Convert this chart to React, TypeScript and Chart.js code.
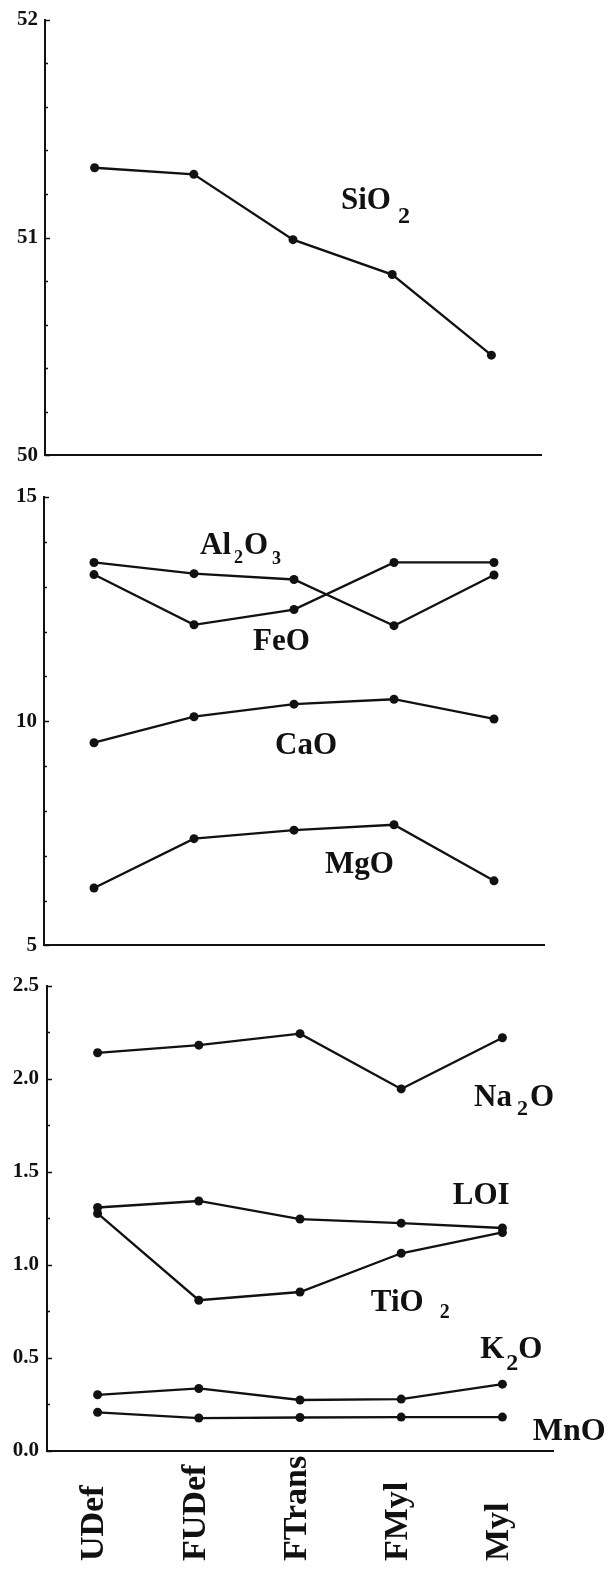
import React, { useEffect, useRef } from 'react';
import { Chart, registerables } from 'chart.js';

Chart.register(...registerables);

// ---- data ----
const categories = ['UDef', 'FUDef', 'FTrans', 'FMyl', 'Myl'];

const sio2 = [51.32, 51.29, 50.99, 50.83, 50.46];

const al2o3 = [13.54, 13.29, 13.16, 12.13, 13.26];
const feo = [13.27, 12.15, 12.49, 13.54, 13.54];
const cao = [9.52, 10.1, 10.38, 10.49, 10.05];
const mgo = [6.28, 7.38, 7.57, 7.69, 6.44];

const na2o = [2.139, 2.18, 2.242, 1.945, 2.22];
const loi = [1.308, 1.343, 1.246, 1.224, 1.198];
const tio2 = [1.276, 0.81, 0.854, 1.062, 1.174];
const k2o = [0.302, 0.336, 0.274, 0.279, 0.359];
const mno = [0.208, 0.177, 0.18, 0.182, 0.182];

const panel1Ticks = { min: 50, max: 52, step: 0.2, majorEvery: 1, decimals: 0 };
const panel2Ticks = { min: 5, max: 15, step: 1, majorEvery: 5, decimals: 0 };
const panel3Ticks = { min: 0, max: 2.5, step: 0.25, majorEvery: 0.5, decimals: 1 };

// ---- styling ----
const FONT = '"Liberation Serif", "Times New Roman", Times, serif';
const INK = '#111111';

type Seg = [string, number, number, number]; // text, size, dy, dx before
type Label = { x: number; y: number; segs: Seg[] };

const panel1Labels: Label[] = [
  { x: 2.484, y: 51.133, segs: [['SiO', 31, 0, 0], ['2', 24, 14, 7]] },
];
const panel2Labels: Label[] = [
  { x: 1.06, y: 13.725, segs: [['Al', 31, 0, 0], ['2', 18, 9, 3], ['O', 31, 0, 1], ['3', 18, 10, 4]] },
  { x: 1.59, y: 11.593, segs: [['FeO', 31, 0, 0]] },
  { x: 1.81, y: 9.264, segs: [['CaO', 31, 0, 0]] },
  { x: 2.31, y: 6.604, segs: [['MgO', 31, 0, 0]] },
];
const panel3Labels: Label[] = [
  { x: 3.72, y: 1.854, segs: [['Na', 31, 0, 0], ['2', 22, 9, 5], ['O', 31, 0, 2]] },
  { x: 3.51, y: 1.325, segs: [['LOI', 31, 0, 0]] },
  { x: 2.7, y: 0.753, segs: [['TiO', 31, 0, 0], ['2', 20, 7, 16]] },
  { x: 3.78, y: 0.497, segs: [['K', 31, 0, 0], ['2', 24, 12, 2], ['O', 31, 0, 0]] },
  { x: 4.3, y: 0.059, segs: [['MnO', 32, 0, 0]] },
];

type Panel = {
  top: number;
  height: number;
  left: number;
  right: number;
  padTop: number;
  padBottom: number;
  xAxisH: number;
  ticks: { min: number; max: number; step: number; majorEvery: number; decimals: number };
  tickPad: number;
  series: number[][];
  labels: Label[];
  showX: boolean;
};

const panels: Panel[] = [
  {
    top: 0, height: 475, left: 45, right: 541, padTop: 16, padBottom: 16, xAxisH: 0,
    ticks: panel1Ticks, tickPad: 7, series: [sio2], labels: panel1Labels, showX: false,
  },
  {
    top: 475, height: 490, left: 44, right: 544, padTop: 22, padBottom: 13, xAxisH: 0,
    ticks: panel2Ticks, tickPad: 7, series: [al2o3, feo, cao, mgo], labels: panel2Labels, showX: false,
  },
  {
    top: 965, height: 607, left: 47, right: 553, padTop: 18, padBottom: 0, xAxisH: 121,
    ticks: panel3Ticks, tickPad: 8, series: [na2o, loi, tio2, k2o, mno], labels: panel3Labels, showX: true,
  },
];

function isMajor(v: number, every: number) {
  const r = v / every;
  return Math.abs(r - Math.round(r)) < 1e-6;
}

function drawSegs(ctx: CanvasRenderingContext2D, segs: Seg[], x: number, y: number) {
  let cx = x;
  for (const [t, size, dy, dx] of segs) {
    cx += dx;
    ctx.font = `bold ${size}px ${FONT}`;
    ctx.fillText(t, cx, y + dy);
    cx += ctx.measureText(t).width;
  }
}

function makeConfig(p: Panel): any {
  const overlay = {
    id: 'overlay',
    afterDraw(chart: any) {
      const ctx = chart.ctx as CanvasRenderingContext2D;
      const xs = chart.scales.x;
      const ys = chart.scales.y;
      const area = chart.chartArea;
      ctx.save();
      // inward tick marks
      ctx.strokeStyle = INK;
      ctx.lineWidth = 1.5;
      ctx.beginPath();
      ys.ticks.forEach((t: any) => {
        const py = Math.round(ys.getPixelForValue(t.value)) + 0.5;
        const len = isMajor(t.value, p.ticks.majorEvery) ? 5 : 3;
        ctx.moveTo(area.left, py);
        ctx.lineTo(area.left + len, py);
      });
      ctx.stroke();
      // series labels
      ctx.fillStyle = INK;
      ctx.textAlign = 'left';
      ctx.textBaseline = 'alphabetic';
      p.labels.forEach((l) => {
        drawSegs(ctx, l.segs, xs.getPixelForValue(l.x), ys.getPixelForValue(l.y));
      });
      // rotated category labels
      if (p.showX) {
        ctx.font = `bold 34px ${FONT}`;
        ctx.textAlign = 'left';
        ctx.textBaseline = 'middle';
        const baseY = area.bottom + 110;
        categories.forEach((c, i) => {
          const px = xs.getPixelForValue(i) - 3;
          ctx.save();
          ctx.translate(px, baseY);
          ctx.rotate(-Math.PI / 2);
          ctx.fillText(c, 0, 0);
          ctx.restore();
        });
      }
      ctx.restore();
    },
  };

  return {
    type: 'line',
    data: {
      labels: categories,
      datasets: p.series.map((d) => ({
        data: d,
        borderColor: INK,
        backgroundColor: INK,
        borderWidth: 2.3,
        pointRadius: 4.5,
        pointHoverRadius: 4.5,
        pointBorderWidth: 0,
        pointBackgroundColor: INK,
        tension: 0,
        fill: false,
      })),
    },
    options: {
      animation: false,
      responsive: false,
      events: [],
      layout: { padding: { top: p.padTop, bottom: p.padBottom, left: 0, right: 615 - p.right } },
      plugins: { legend: { display: false }, tooltip: { enabled: false } },
      scales: {
        x: {
          type: 'category',
          offset: true,
          grid: { display: false, drawTicks: false },
          border: { display: true, color: INK, width: 2 },
          ticks: { display: false },
          afterFit: (s: any) => {
            s.height = p.xAxisH;
          },
        },
        y: {
          min: p.ticks.min,
          max: p.ticks.max,
          grid: { display: false, drawTicks: false },
          border: { display: true, color: INK, width: 2 },
          ticks: {
            stepSize: p.ticks.step,
            autoSkip: false,
            padding: p.tickPad,
            color: INK,
            font: { family: FONT, size: 21, weight: 'bold' },
            callback: (v: number) => (isMajor(v, p.ticks.majorEvery) ? v.toFixed(p.ticks.decimals) : ''),
          },
          afterFit: (s: any) => {
            s.width = p.left;
          },
        },
      },
    },
    plugins: [overlay],
  };
}

function PanelChart({ p }: { p: Panel }) {
  const ref = useRef<HTMLCanvasElement>(null);
  useEffect(() => {
    const chart = new Chart(ref.current as HTMLCanvasElement, makeConfig(p));
    return () => chart.destroy();
  }, [p]);
  return (
    <canvas
      ref={ref}
      width={615}
      height={p.height}
      style={{ position: 'absolute', left: 0, top: p.top, width: 615, height: p.height }}
    />
  );
}

export default function App() {
  return (
    <div style={{ position: 'absolute', left: 0, top: 0, width: 615, height: 1572, background: '#fff' }}>
      {panels.map((p, i) => (
        <PanelChart key={i} p={p} />
      ))}
    </div>
  );
}
